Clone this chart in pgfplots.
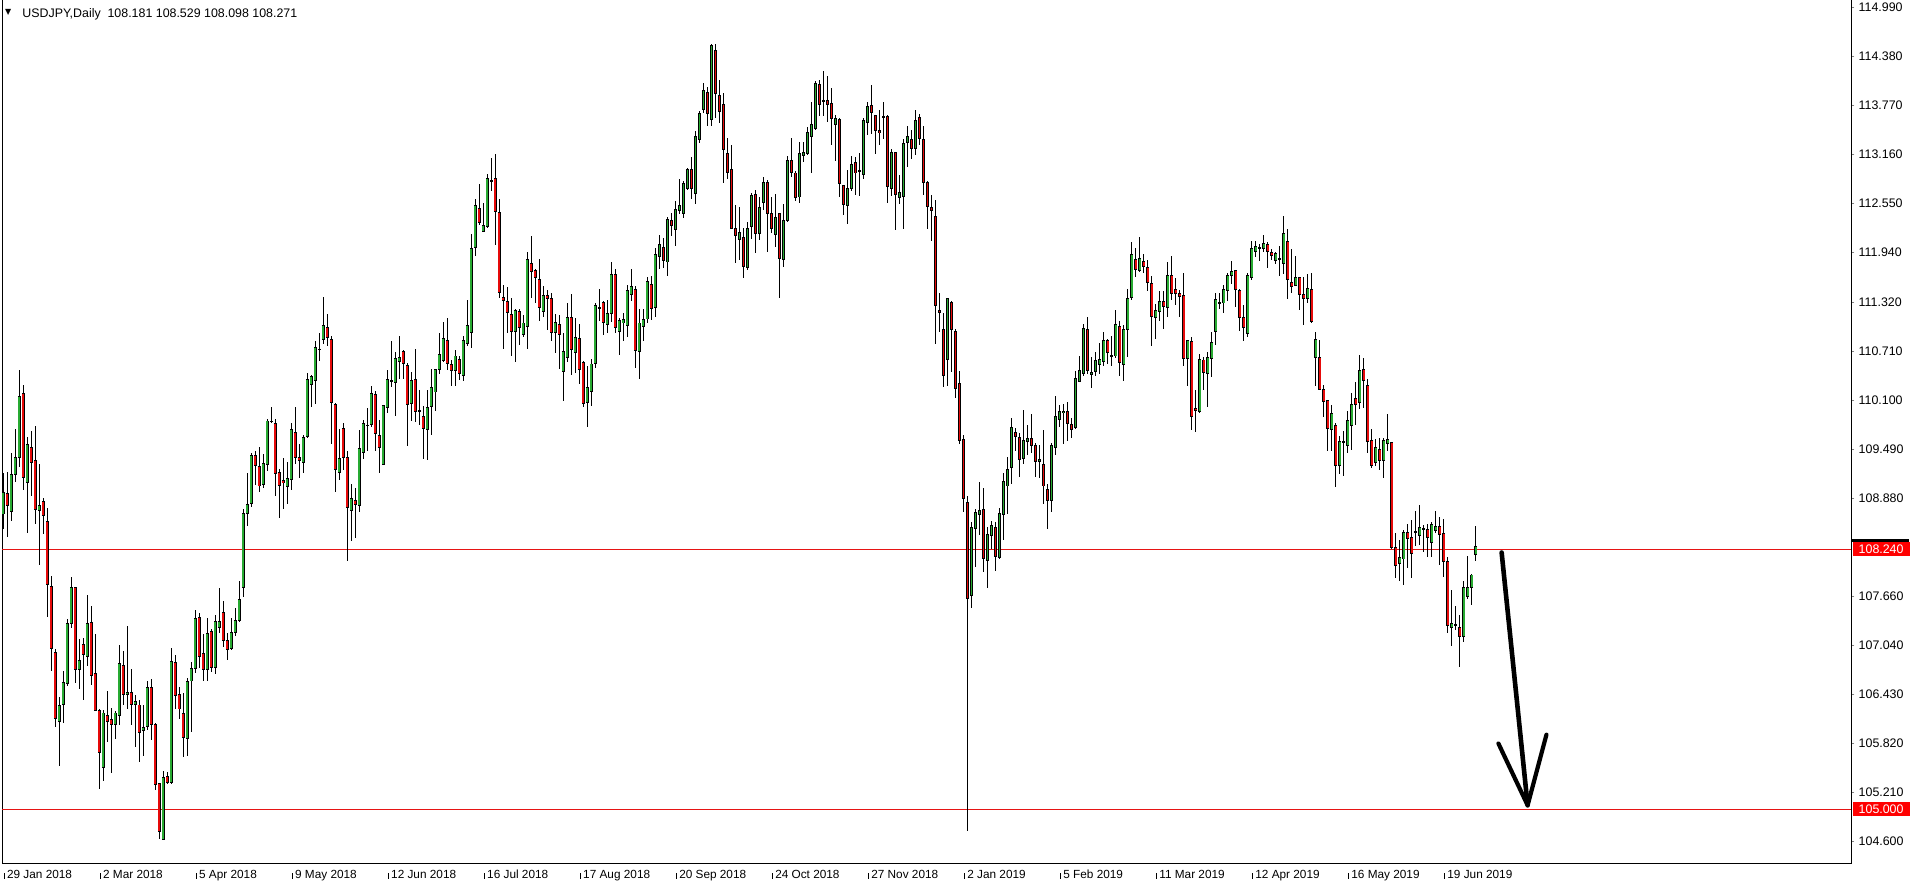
\documentclass[border=0pt]{standalone}
\usepackage{fontspec}
\setmainfont{Liberation Sans}
\newfontfamily\dejavu{DejaVu Sans}
\usepackage{pgfplots}
\usepackage{pgfplotstable}
\pgfplotsset{compat=1.18}
\definecolor{bull}{RGB}{40,170,50}
\definecolor{bear}{RGB}{230,10,10}
\definecolor{lvl}{RGB}{230,20,20}
\newcommand\tl[1]{\rule{0.5pt}{3pt}\hspace{1.2pt}#1}
\pgfplotstableread{
x o h l c
0 108.68 109.19 108.50 108.95
1 108.94 109.21 108.40 108.78
2 108.71 109.44 108.59 109.17
3 109.17 109.74 109.08 109.39
4 109.39 110.47 109.27 110.15
5 110.18 110.29 108.98 109.14
6 109.07 109.64 108.44 109.55
7 109.51 109.71 108.91 109.32
8 109.35 109.78 108.56 108.74
9 108.72 109.30 108.04 108.78
10 108.84 108.88 108.43 108.66
11 108.59 108.76 107.40 107.80
12 107.78 107.91 106.72 107.01
13 106.95 107.00 106.03 106.13
14 106.09 106.40 105.54 106.30
15 106.31 106.72 106.08 106.58
16 106.57 107.37 106.54 107.32
17 107.32 107.89 107.26 107.77
18 107.76 107.77 106.58 106.74
19 106.74 107.12 106.50 106.86
20 107.05 107.14 106.36 106.93
21 106.91 107.67 106.78 107.32
22 107.33 107.53 106.55 106.67
23 106.69 107.19 106.22 106.23
24 106.23 106.25 105.25 105.71
25 105.52 106.24 105.35 106.20
26 106.17 106.47 105.84 106.10
27 106.12 106.26 105.45 106.06
28 106.06 106.22 105.88 106.20
29 106.17 107.05 106.05 106.82
30 106.79 106.97 106.30 106.43
31 106.43 107.29 106.25 106.46
32 106.45 106.75 106.05 106.31
33 106.31 106.42 105.78 106.34
34 106.30 106.36 105.59 105.96
35 105.98 106.30 105.67 106.02
36 106.03 106.60 105.99 106.52
37 106.52 106.63 105.86 106.06
38 106.06 106.07 105.24 105.31
39 105.32 105.32 104.63 104.72
40 104.63 105.48 104.62 105.40
41 105.41 105.47 105.32 105.33
42 105.33 107.01 105.32 106.84
43 106.83 106.93 106.25 106.42
44 106.43 106.53 106.12 106.25
45 106.19 106.45 105.65 105.89
46 105.88 106.64 105.67 106.59
47 106.60 106.84 105.97 106.76
48 106.75 107.48 106.70 107.38
49 107.39 107.45 106.76 106.91
50 106.94 107.19 106.60 106.74
51 106.74 107.39 106.60 107.19
52 107.22 107.25 106.71 106.77
53 106.77 107.42 106.68 107.34
54 107.27 107.76 107.20 107.34
55 107.45 107.60 107.02 107.10
56 107.10 107.20 106.86 106.99
57 107.00 107.38 106.99 107.21
58 107.20 107.51 107.16 107.35
59 107.35 107.85 107.34 107.62
60 107.76 108.74 107.64 108.69
61 108.69 109.19 108.53 108.80
62 108.81 109.44 108.77 109.41
63 109.41 109.47 109.04 109.28
64 109.27 109.52 108.95 109.03
65 109.05 109.43 109.01 109.31
66 109.30 109.87 109.22 109.84
67 109.83 110.02 109.81 109.84
68 109.81 109.87 108.90 109.18
69 109.20 109.24 108.63 109.04
70 109.10 109.38 108.74 109.07
71 109.02 109.33 108.81 109.12
72 109.11 109.82 108.98 109.73
73 109.70 110.01 109.31 109.38
74 109.38 109.55 109.13 109.35
75 109.32 109.66 109.19 109.63
76 109.64 110.44 109.63 110.35
77 110.29 110.41 110.01 110.39
78 110.34 110.84 110.05 110.75
79 110.73 110.94 110.59 110.73
80 110.85 111.38 110.80 111.03
81 111.01 111.17 110.77 110.88
82 110.86 110.90 109.55 110.07
83 110.05 110.06 108.95 109.24
84 109.20 109.74 109.10 109.37
85 109.75 109.82 109.23 109.39
86 109.39 109.47 108.10 108.76
87 108.73 109.06 108.34 108.88
88 108.85 109.00 108.38 108.80
89 108.79 109.73 108.71 109.50
90 109.45 109.85 109.37 109.81
91 109.78 110.00 109.46 109.79
92 109.80 110.27 109.76 110.18
93 110.17 110.21 109.47 109.69
94 109.66 109.85 109.19 109.51
95 109.30 110.04 109.29 110.03
96 110.01 110.48 109.94 110.36
97 110.33 110.84 110.26 110.34
98 110.32 110.70 109.90 110.62
99 110.58 110.90 110.36 110.63
100 110.71 110.73 110.36 110.55
101 110.53 110.56 109.53 110.05
102 110.06 110.45 109.84 110.35
103 110.35 110.74 109.83 109.96
104 109.96 110.22 109.79 109.97
105 109.90 110.02 109.36 109.75
106 109.73 110.22 109.35 110.01
107 110.02 110.49 109.66 110.26
108 110.20 110.49 109.96 110.48
109 110.48 110.94 110.43 110.67
110 110.59 111.07 110.58 110.87
111 110.84 111.12 110.48 110.56
112 110.54 110.60 110.27 110.47
113 110.47 110.72 110.28 110.65
114 110.61 110.65 110.35 110.43
115 110.41 110.90 110.34 110.84
116 110.81 111.35 110.77 111.03
117 110.94 112.17 110.75 111.99
118 112.00 112.61 111.90 112.52
119 112.49 112.79 112.28 112.31
120 112.20 112.56 112.19 112.27
121 112.26 112.92 112.25 112.86
122 112.83 113.12 112.70 112.84
123 112.86 113.17 112.03 112.45
124 112.44 112.61 111.37 111.44
125 111.38 111.53 110.74 111.34
126 111.33 111.51 110.94 111.19
127 111.16 111.37 110.65 110.95
128 110.95 111.23 110.58 111.22
129 111.21 111.23 110.78 111.00
130 110.92 111.16 110.88 111.06
131 111.02 111.94 110.74 111.85
132 111.80 112.14 111.37 111.70
133 111.72 111.73 111.31 111.63
134 111.60 111.86 111.09 111.25
135 111.21 111.52 111.14 111.40
136 111.40 111.47 110.97 111.36
137 111.36 111.43 110.83 110.94
138 110.94 111.17 110.69 111.07
139 111.04 111.16 110.49 110.92
140 110.46 110.94 110.09 110.71
141 110.63 111.31 110.58 111.13
142 111.13 111.42 110.41 110.73
143 110.69 111.12 110.44 110.88
144 110.87 111.05 110.30 110.48
145 110.57 110.59 110.01 110.06
146 110.07 110.53 109.76 110.26
147 110.21 110.61 110.02 110.55
148 110.56 111.31 110.50 111.28
149 111.24 111.48 111.09 111.25
150 111.32 111.33 110.91 111.07
151 111.04 111.35 110.94 111.18
152 111.18 111.82 111.07 111.67
153 111.67 111.74 110.94 111.00
154 110.95 111.12 110.66 111.09
155 111.06 111.18 110.84 111.10
156 111.03 111.53 110.89 111.47
157 111.42 111.74 111.33 111.52
158 111.48 111.52 110.50 110.72
159 110.70 111.23 110.36 111.06
160 111.02 111.23 110.84 111.11
161 111.11 111.63 111.06 111.58
162 111.54 111.64 111.10 111.24
163 111.26 111.99 111.14 111.92
164 111.89 112.16 111.73 112.04
165 112.00 112.12 111.75 111.84
166 111.82 112.38 111.65 112.35
167 112.34 112.43 112.15 112.28
168 112.23 112.58 112.02 112.48
169 112.46 112.86 112.42 112.52
170 112.43 112.83 112.37 112.80
171 112.73 112.99 112.72 112.97
172 112.97 113.13 112.61 112.73
173 112.68 113.45 112.55 113.39
174 113.35 113.70 113.30 113.67
175 113.72 114.05 113.68 113.96
176 113.93 114.00 113.51 113.67
177 113.60 114.54 113.51 114.52
178 114.46 114.54 113.62 113.92
179 113.89 114.09 113.55 113.69
180 113.78 113.93 112.81 113.22
181 113.17 113.37 112.85 112.93
182 112.97 113.28 112.23 112.24
183 112.24 112.53 111.81 112.15
184 112.10 112.50 111.85 112.19
185 112.13 112.24 111.62 111.76
186 111.75 112.32 111.72 112.24
187 112.26 112.68 112.11 112.65
188 112.66 112.72 111.93 112.18
189 112.18 112.63 112.10 112.50
190 112.56 112.88 112.47 112.81
191 112.81 112.84 111.94 112.43
192 112.42 112.63 112.18 112.24
193 112.16 112.67 112.01 112.38
194 112.42 112.43 111.37 111.87
195 111.85 112.55 111.76 112.34
196 112.34 113.14 112.32 113.08
197 113.09 113.37 112.88 112.93
198 112.93 112.96 112.58 112.63
199 112.63 113.32 112.55 113.17
200 113.15 113.32 113.06 113.19
201 113.17 113.50 113.15 113.44
202 113.39 113.82 112.93 113.54
203 113.48 114.08 113.47 114.04
204 114.03 114.09 113.64 113.78
205 113.83 114.20 113.64 113.82
206 113.83 114.14 113.56 113.78
207 113.80 113.99 113.28 113.61
208 113.54 113.65 113.08 113.61
209 113.60 113.61 112.63 112.80
210 112.77 112.78 112.40 112.54
211 112.52 112.97 112.29 112.74
212 112.73 113.14 112.70 113.04
213 113.06 113.13 112.65 112.93
214 112.96 113.18 112.64 112.95
215 112.91 113.62 112.86 113.58
216 113.56 113.82 113.40 113.76
217 113.77 114.02 113.41 113.68
218 113.64 113.65 113.16 113.46
219 113.46 113.71 113.28 113.43
220 113.63 113.82 113.35 113.62
221 113.63 113.65 112.56 112.76
222 112.74 113.23 112.64 113.18
223 113.18 113.19 112.22 112.66
224 112.62 112.91 112.54 112.69
225 112.64 113.35 112.23 113.30
226 113.31 113.51 113.00 113.38
227 113.35 113.46 113.11 113.24
228 113.24 113.71 113.16 113.58
229 113.62 113.67 113.28 113.36
230 113.35 113.52 112.66 112.81
231 112.81 112.83 112.23 112.51
232 112.50 112.66 112.08 112.46
233 112.39 112.59 110.80 111.28
234 111.22 111.44 110.95 111.19
235 110.98 111.18 110.26 110.41
236 110.61 111.37 110.27 111.36
237 111.31 111.34 110.45 110.98
238 110.96 110.98 110.13 110.24
239 110.31 110.46 109.55 109.60
240 109.61 109.66 108.71 108.88
241 108.83 108.90 104.73 107.63
242 107.67 108.58 107.51 108.51
243 108.50 108.74 108.02 108.70
244 108.68 109.08 108.42 108.73
245 108.74 109.00 107.96 108.13
246 108.10 108.52 107.76 108.42
247 108.41 108.59 108.25 108.54
248 108.51 108.58 107.97 108.15
249 108.14 108.76 108.12 108.69
250 108.68 109.19 108.36 109.09
251 109.03 109.39 108.68 109.24
252 109.26 109.88 109.05 109.76
253 109.70 109.75 109.46 109.64
254 109.64 109.69 109.14 109.36
255 109.37 109.98 109.30 109.60
256 109.59 109.79 109.42 109.62
257 109.62 109.93 109.44 109.53
258 109.54 109.57 109.14 109.34
259 109.34 109.54 109.13 109.36
260 109.30 109.73 108.80 109.03
261 108.99 109.06 108.49 108.85
262 108.85 109.57 108.71 109.53
263 109.51 110.15 109.42 109.90
264 109.86 110.04 109.77 109.96
265 109.94 110.05 109.55 109.96
266 109.96 110.07 109.59 109.81
267 109.79 109.88 109.63 109.73
268 109.76 110.46 109.74 110.37
269 110.33 110.65 110.33 110.47
270 110.43 111.05 110.40 110.99
271 110.98 111.13 110.43 110.47
272 110.42 110.64 110.25 110.45
273 110.45 110.70 110.40 110.59
274 110.54 110.81 110.43 110.60
275 110.58 110.95 110.52 110.84
276 110.84 110.86 110.55 110.69
277 110.65 110.90 110.53 110.64
278 110.65 111.22 110.63 111.04
279 111.02 111.08 110.40 110.57
280 110.54 111.03 110.34 110.98
281 110.98 111.48 110.64 111.37
282 111.38 112.07 111.35 111.91
283 111.85 112.00 111.63 111.73
284 111.72 112.13 111.69 111.87
285 111.83 111.92 111.68 111.76
286 111.75 111.84 111.46 111.57
287 111.55 111.65 110.77 111.14
288 111.13 111.30 110.86 111.21
289 111.21 111.46 111.08 111.33
290 111.33 111.46 110.98 111.26
291 111.25 111.82 111.13 111.65
292 111.65 111.89 111.35 111.43
293 111.48 111.62 111.28 111.43
294 111.43 111.47 111.14 111.39
295 111.40 111.68 110.52 110.62
296 110.62 110.85 110.28 110.84
297 110.83 110.89 109.73 109.89
298 110.00 110.23 109.70 109.97
299 109.96 110.68 109.94 110.61
300 110.60 110.64 110.22 110.45
301 110.43 110.70 110.01 110.63
302 110.62 110.95 110.39 110.82
303 110.95 111.43 110.79 111.35
304 111.31 111.44 111.24 111.32
305 111.31 111.53 111.19 111.48
306 111.46 111.68 111.33 111.65
307 111.65 111.83 111.55 111.70
308 111.71 111.72 111.26 111.48
309 111.47 111.49 110.96 111.13
310 111.13 111.28 110.83 111.01
311 110.93 111.68 110.88 111.65
312 111.63 112.08 111.60 111.99
313 111.95 112.08 111.88 112.02
314 111.99 112.04 111.83 112.00
315 111.99 112.16 111.94 112.05
316 112.04 112.07 111.75 111.95
317 111.94 111.98 111.84 111.90
318 111.84 111.94 111.80 111.93
319 111.86 112.02 111.65 111.85
320 111.80 112.39 111.67 112.18
321 112.07 112.23 111.36 111.60
322 111.57 111.98 111.44 111.51
323 111.53 111.90 111.52 111.63
324 111.63 111.64 111.22 111.42
325 111.42 111.63 111.04 111.37
326 111.37 111.67 111.31 111.49
327 111.48 111.68 111.06 111.08
328 110.63 110.95 110.28 110.86
329 110.63 110.85 110.22 110.23
330 110.23 110.29 109.89 110.08
331 110.09 110.10 109.47 109.75
332 109.73 110.04 109.47 109.93
333 109.78 109.82 109.02 109.29
334 109.29 109.65 109.18 109.58
335 109.57 109.71 109.15 109.58
336 109.53 109.96 109.44 109.84
337 109.78 110.19 109.48 110.05
338 110.12 110.32 109.79 110.05
339 110.07 110.66 109.99 110.47
340 110.48 110.62 110.00 110.34
341 110.28 110.36 109.44 109.58
342 109.59 109.74 109.26 109.28
343 109.32 109.62 109.28 109.51
344 109.48 109.63 109.23 109.35
345 109.35 109.63 109.13 109.59
346 109.56 109.93 109.46 109.61
347 109.57 109.58 108.25 108.26
348 108.26 108.44 107.88 108.04
349 108.07 108.36 107.84 108.14
350 108.12 108.48 107.80 108.45
351 108.45 108.55 108.01 108.38
352 108.39 108.61 107.88 108.19
353 108.46 108.72 108.28 108.45
354 108.41 108.79 108.29 108.51
355 108.50 108.55 108.21 108.49
356 108.49 108.55 108.15 108.39
357 108.33 108.58 108.15 108.55
358 108.48 108.72 108.44 108.53
359 108.52 108.64 108.05 108.43
360 108.44 108.62 107.89 108.09
361 108.09 108.14 107.20 107.29
362 107.26 107.73 107.04 107.31
363 107.30 107.53 107.23 107.29
364 107.27 107.42 106.77 107.15
365 107.15 107.84 107.09 107.77
366 107.65 108.16 107.62 107.77
367 107.76 107.93 107.55 107.92
368 108.181 108.529 108.098 108.271
}\ohlc

\begin{document}
\begin{tikzpicture}
\useasboundingbox (-1.15pt,-10.5pt) rectangle (956.85pt,431.5pt);
\begin{axis}[
  at={(0,0)}, anchor=south west,
  scale only axis, width=924.5pt, height=431.5pt,
  xmin=-0.25, xmax=461.9, ymin=104.331, ymax=115.085,
  axis line style={line width=0.5pt, black},
  clip=false,
  tick align=outside, major tick length=1.5pt,
  ytick pos=right, yticklabel pos=right,
  ytick={114.99,114.38,113.77,113.16,112.55,111.94,111.32,110.71,110.10,109.49,108.88,107.66,107.04,106.43,105.82,105.21,104.60},
  yticklabels={114.990,114.380,113.770,113.160,112.550,111.940,111.320,110.710,110.100,109.490,108.880,107.660,107.040,106.430,105.820,105.210,104.600},
  yticklabel style={anchor=west, inner sep=0pt, xshift=2pt, font=\fontsize{6.2}{7}\selectfont},
  xtick pos=bottom,
  xtick={0,24,...,360},
  xticklabels={\tl{29 Jan 2018},\tl{2 Mar 2018},\tl{5 Apr 2018},\tl{9 May 2018},\tl{12 Jun 2018},\tl{16 Jul 2018},\tl{17 Aug 2018},\tl{20 Sep 2018},\tl{24 Oct 2018},\tl{27 Nov 2018},\tl{2 Jan 2019},\tl{5 Feb 2019},\tl{11 Mar 2019},\tl{12 Apr 2019},\tl{16 May 2019},\tl{19 Jun 2019}},
  xtick style={draw=none},
  xticklabel style={anchor=north west, inner sep=0pt, yshift=-2pt, font=\fontsize{5.9}{7}\selectfont},
]
% level lines
\addplot[lvl, line width=0.5pt] coordinates {(-0.25,108.24) (461.9,108.24)};
\addplot[lvl, line width=0.5pt] coordinates {(-0.25,105.0) (461.9,105.0)};
% wicks
\addplot[draw=none, mark=none, error bars/.cd, y dir=both, y explicit, error mark=none,
  error bar style={draw=black, line width=0.5pt}]
  table[x=x, y expr={(\thisrow{h}+\thisrow{l})/2}, y error expr={(\thisrow{h}-\thisrow{l})/2}] {\ohlc};
% body outlines
\addplot[draw=none, mark=none, error bars/.cd, y dir=both, y explicit, error mark=none,
  error bar style={draw=black, line width=1.6pt}]
  table[x=x, y expr={(\thisrow{o}+\thisrow{c})/2}, y error expr={abs(\thisrow{c}-\thisrow{o})/2+0.006}] {\ohlc};
% bull fill
\addplot[draw=none, mark=none, error bars/.cd, y dir=both, y explicit, error mark=none,
  error bar style={draw=bull, line width=0.95pt}]
  table[x=x, y expr={\thisrow{c}>=\thisrow{o} ? (\thisrow{o}+\thisrow{c})/2 : nan}, y error expr={max(abs(\thisrow{c}-\thisrow{o})/2-0.006,0)}] {\ohlc};
% bear fill
\addplot[draw=none, mark=none, error bars/.cd, y dir=both, y explicit, error mark=none,
  error bar style={draw=bear, line width=0.95pt}]
  table[x=x, y expr={\thisrow{c}<\thisrow{o} ? (\thisrow{o}+\thisrow{c})/2 : nan}, y error expr={max(abs(\thisrow{c}-\thisrow{o})/2-0.006,0)}] {\ohlc};
% hand-drawn arrow
\addplot[black, line width=2.3pt, line cap=round, line join=round] coordinates {(374.5,108.20) (381.0,105.05)};
\addplot[black, line width=2.1pt, line cap=round, line join=round] coordinates {(373.7,105.82) (381.0,105.05) (385.7,105.93)};
% price labels
\fill[black] ([xshift=0.5pt,yshift=3.6pt]axis cs:461.9,108.24) rectangle ++(28.5pt,1.8pt);
\node[anchor=west, fill=red, text=white, inner xsep=3pt, inner ysep=1.3pt, xshift=0.5pt,
  font=\fontsize{6.2}{7}\selectfont] at (axis cs:461.9,108.24) {108.240};
\node[anchor=west, fill=red, text=white, inner xsep=3pt, inner ysep=1.3pt, xshift=0.5pt,
  font=\fontsize{6.2}{7}\selectfont] at (axis cs:461.9,105.0) {105.000};
% header
\node[anchor=center, inner sep=0pt, font=\dejavu\fontsize{4}{5}\selectfont] at ([xshift=2.9pt,yshift=-6.4pt]rel axis cs:0,1) {▼};
\node[anchor=base west, inner sep=0pt, font=\fontsize{6.2}{7}\selectfont] at ([xshift=9.85pt,yshift=-8.6pt]rel axis cs:0,1) {USDJPY,Daily\ \ 108.181 108.529 108.098 108.271};
\end{axis}
\end{tikzpicture}
\end{document}
